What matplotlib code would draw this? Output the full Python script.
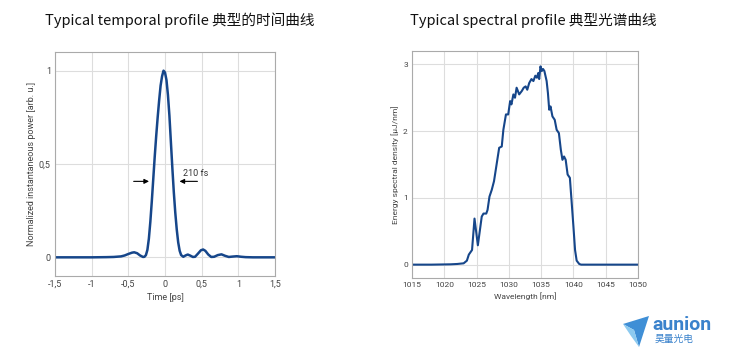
import numpy as np
import matplotlib
matplotlib.use("Agg")
import matplotlib.pyplot as plt
from matplotlib.patches import Polygon

plt.rcParams['font.family'] = ['Roboto', 'Noto Sans CJK SC', 'DejaVu Sans']

# temporal profile
t_ps = [-1.5, -1.2, -1.0, -0.8, -0.7, -0.6, -0.55, -0.5, -0.45, -0.42, -0.38, -0.34,
        -0.3, -0.28, -0.26, -0.24, -0.22, -0.2, -0.18, -0.16, -0.14, -0.12, -0.1,
        -0.08, -0.06, -0.04, -0.02, 0.0, 0.02, 0.04, 0.06, 0.08, 0.1, 0.12, 0.14,
        0.16, 0.18, 0.2, 0.22, 0.25, 0.28, 0.31, 0.34, 0.38, 0.41, 0.45, 0.49, 0.52,
        0.55, 0.59, 0.63, 0.67, 0.72, 0.77, 0.82, 0.87, 0.92, 0.98, 1.04, 1.1, 1.2, 1.5]
power = [0.0, 0.0, 0.0, 0.001, 0.002, 0.005, 0.01, 0.018, 0.025, 0.027, 0.022, 0.01,
         0.002, 0.003, 0.012, 0.04, 0.10, 0.19, 0.30, 0.42, 0.54, 0.65, 0.75,
         0.84, 0.92, 0.97, 1.0, 0.99, 0.95, 0.87, 0.76, 0.62, 0.48, 0.35, 0.24,
         0.15, 0.08, 0.035, 0.012, 0.003, 0.01, 0.015, 0.01, 0.002, 0.003, 0.02, 0.038, 0.042,
         0.035, 0.015, 0.002, 0.003, 0.012, 0.016, 0.008, 0.002, 0.004, 0.006, 0.003, 0.001, 0.0, 0.0]

# spectral profile
wl_nm = [1015, 1018, 1021, 1022, 1023, 1023.5, 1023.8, 1024.3, 1024.68, 1025.2, 1025.8,
         1026.07, 1026.5, 1026.7, 1027.0, 1027.35, 1027.7, 1028.1, 1028.5, 1028.9, 1029.15,
         1029.55, 1029.9, 1030.2, 1030.4, 1030.7, 1030.95, 1031.2, 1031.6, 1032.0, 1032.3,
         1032.6, 1032.85, 1033.15, 1033.5, 1033.8, 1034.1, 1034.35, 1034.55, 1034.7, 1034.9,
         1035.1, 1035.3, 1035.5, 1035.85, 1036.05, 1036.25, 1036.45, 1036.75, 1037.1, 1037.4,
         1037.75, 1038.05, 1038.3, 1038.55, 1038.8, 1039.1, 1039.45, 1039.7, 1040.0, 1040.25,
         1040.5, 1040.9, 1041.2, 1045, 1050]
esd = [0, 0, 0.005, 0.01, 0.02, 0.06, 0.15, 0.22, 0.69, 0.29, 0.72,
       0.765, 0.765, 0.82, 1.02, 1.12, 1.25, 1.5, 1.75, 1.77, 2.02,
       2.25, 2.25, 2.45, 2.4, 2.55, 2.5, 2.65, 2.55, 2.6, 2.65,
       2.67, 2.62, 2.72, 2.78, 2.75, 2.83, 2.8, 2.87, 2.78, 2.97,
       2.9, 2.93, 2.9, 2.75, 2.57, 2.32, 2.37, 2.22, 2.17, 2.02,
       1.97, 1.72, 1.57, 1.62, 1.57, 1.35, 1.3, 0.97, 0.57, 0.22,
       0.06, 0.01, 0, 0, 0]

t_ticks = [-1.5, -1, -0.5, 0, 0.5, 1, 1.5]
p_ticks = [0, 0.5, 1]
wl_ticks = [1015, 1020, 1025, 1030, 1035, 1040, 1045, 1050]
esd_ticks = [0, 1, 2, 3]

W, H = 731, 355
blue = '#16468a'
tickc = '#444444'


def comma(v):
    s = ('%g' % v).replace('.', ',')
    return s


def style(ax):
    ax.grid(True, color='#dddddd', lw=0.8)
    ax.set_axisbelow(True)
    for sp in ax.spines.values():
        sp.set_color('#aaaaaa')
        sp.set_linewidth(0.8)
    ax.tick_params(length=0, labelsize=6.5, labelcolor=tickc, pad=3)


fig = plt.figure(figsize=(W / 100, H / 100), dpi=100)

ax1 = fig.add_axes([55 / W, (H - 276) / H, 220 / W, 224 / H])
ax1.plot(t_ps, power, color=blue, lw=1.8)
ax1.set_xlim(-1.5, 1.5)
ax1.set_ylim(-0.1, 1.1)
ax1.set_xticks(t_ticks)
ax1.set_xticklabels([comma(v) for v in t_ticks])
ax1.set_yticks(p_ticks)
ax1.set_yticklabels([comma(v) for v in p_ticks])
style(ax1)
ax1.set_xlabel('Time [ps]', fontsize=6.5, color=tickc, labelpad=3)
ax1.set_ylabel('Normalized instantaneous power [arb. u.]', fontsize=6.5, color=tickc, labelpad=2)
arr = dict(arrowstyle='-|>', color='black', lw=0.8, mutation_scale=7)
ax1.annotate('', xy=(-0.18, 0.407), xytext=(-0.465, 0.407), arrowprops=arr)
ax1.annotate('', xy=(0.16, 0.407), xytext=(0.48, 0.407), arrowprops=arr)
ax1.text(0.25, 0.45, '210 fs', fontsize=6.5, color='#333333', va='center', ha='left')

ax2 = fig.add_axes([412 / W, (H - 278) / H, 226 / W, 227 / H])
ax2.plot(wl_nm, esd, color=blue, lw=1.5)
ax2.set_xlim(1015, 1050)
ax2.set_ylim(-0.2, 3.2)
ax2.set_xticks(wl_ticks)
ax2.set_yticks(esd_ticks)
style(ax2)
ax2.tick_params(labelsize=6)
ax2.set_xlabel('Wavelength [nm]', fontsize=6, color=tickc, labelpad=3)
ax2.set_ylabel('Energy spectral density [µJ/nm]', fontsize=6, color=tickc, labelpad=3)

title_font = ['Noto Sans CJK SC', 'DejaVu Sans']
fig.text(180 / W, 1 - 20 / H, 'Typical temporal profile 典型的时间曲线', fontsize=10.5,
         family=title_font, ha='center', va='center', color='#111111')
fig.text(533 / W, 1 - 20 / H, 'Typical spectral profile 典型光谱曲线', fontsize=10.5,
         family=title_font, ha='center', va='center', color='#111111')

# logo
def fp(x, y):
    return (x / W, 1 - y / H)

plane = Polygon([fp(623, 324), fp(649, 316), fp(639, 347), fp(634, 330)],
                closed=True, transform=fig.transFigure, color='#3f8fd6', lw=0)
plane2 = Polygon([fp(623, 324), fp(634, 330), fp(639, 347), fp(631, 336)],
                 closed=True, transform=fig.transFigure, color='#8ccaf0', lw=0)
fig.patches.extend([plane, plane2])
fig.text(652 / W, 1 - 325 / H, 'aunion', fontsize=14, family=['Roboto', 'DejaVu Sans'],
         color='#3a82cc', ha='left', va='center', weight='bold')
fig.text(655 / W, 1 - 339 / H, '昊量光电', fontsize=7, family=title_font,
         color='#3a82cc', ha='left', va='center')

fig.savefig('out.png', dpi=100)
